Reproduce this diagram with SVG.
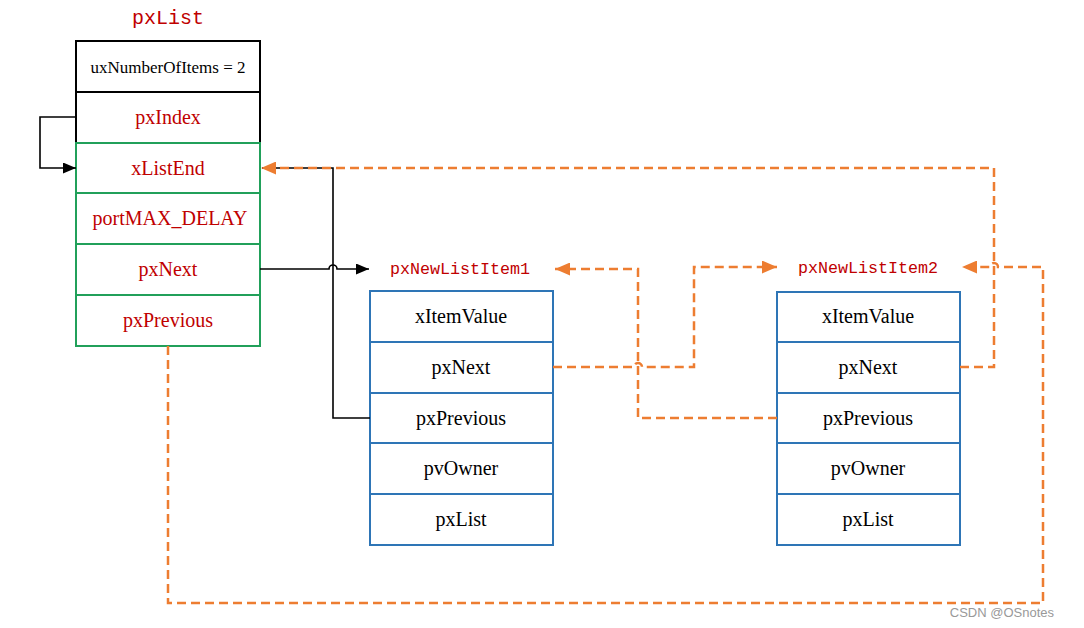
<svg xmlns="http://www.w3.org/2000/svg" width="1084" height="628" viewBox="0 0 1084 628">
<style>
.cell{fill:#fff;stroke-width:2}
.blk{stroke:#000}
.grn{stroke:#21A05A}
.blu{stroke:#2E75B6}
.t{font-family:"Liberation Serif",serif;font-size:20px;text-anchor:middle;dominant-baseline:central}
.red{fill:#C00000}
.black{fill:#000}
.title{font-family:"Liberation Mono",monospace;fill:#C00000;text-anchor:middle;dominant-baseline:central}
.sol{fill:none;stroke:#000;stroke-width:1.6}
.dash{fill:none;stroke:#ED7D31;stroke-width:2.5;stroke-dasharray:9,5}
</style>
<defs>
<marker id="ab" markerWidth="13" markerHeight="11" refX="13" refY="5.5" orient="auto" markerUnits="userSpaceOnUse"><path d="M0,0 L13,5.5 L0,11 z" fill="#000"/></marker>
<marker id="ao" markerWidth="15" markerHeight="13" refX="15" refY="6.5" orient="auto" markerUnits="userSpaceOnUse"><path d="M0,0 L15,6.5 L0,13 z" fill="#ED7D31"/></marker>
</defs>
<rect width="1084" height="628" fill="#fff"/>

<g id="pxList">
<text class="title" x="168" y="18" font-size="20">pxList</text>
<rect class="cell blk" x="76" y="41" width="184" height="51"/>
<rect class="cell blk" x="76" y="92" width="184" height="51"/>
<rect class="cell grn" x="76" y="143" width="184" height="50"/>
<rect class="cell grn" x="76" y="193" width="184" height="51"/>
<rect class="cell grn" x="76" y="244" width="184" height="51"/>
<rect class="cell grn" x="76" y="295" width="184" height="51"/>
<text class="t black" x="168" y="67" style="font-size:17px">uxNumberOfItems = 2</text>
<text class="t red" x="168" y="117">pxIndex</text>
<text class="t red" x="168" y="168">xListEnd</text>
<text class="t red" x="170" y="218">portMAX_DELAY</text>
<text class="t red" x="168" y="269">pxNext</text>
<text class="t red" x="168" y="320">pxPrevious</text>
</g>

<g id="pxNewListItem1">
<text class="title" x="460" y="269" font-size="16.7">pxNewListItem1</text>
<rect class="cell blu" x="370" y="291" width="183" height="51"/>
<rect class="cell blu" x="370" y="342" width="183" height="51"/>
<rect class="cell blu" x="370" y="393" width="183" height="50"/>
<rect class="cell blu" x="370" y="443" width="183" height="51"/>
<rect class="cell blu" x="370" y="494" width="183" height="51"/>
<text class="t black" x="461" y="316">xItemValue</text>
<text class="t black" x="461" y="367">pxNext</text>
<text class="t black" x="461" y="418">pxPrevious</text>
<text class="t black" x="461" y="468">pvOwner</text>
<text class="t black" x="461" y="519">pxList</text>
</g>

<g id="pxNewListItem2">
<text class="title" x="868" y="268" font-size="16.7">pxNewListItem2</text>
<rect class="cell blu" x="777" y="292" width="183" height="50"/>
<rect class="cell blu" x="777" y="342" width="183" height="51"/>
<rect class="cell blu" x="777" y="393" width="183" height="50"/>
<rect class="cell blu" x="777" y="443" width="183" height="51"/>
<rect class="cell blu" x="777" y="494" width="183" height="51"/>
<text class="t black" x="868" y="316">xItemValue</text>
<text class="t black" x="868" y="367">pxNext</text>
<text class="t black" x="868" y="418">pxPrevious</text>
<text class="t black" x="868" y="468">pvOwner</text>
<text class="t black" x="868" y="519">pxList</text>
</g>

<g id="connectors">
<path class="sol" d="M76,117 H40 V168 H76" marker-end="url(#ab)"/>
<path class="sol" d="M370,418 H333 V168 H262"/>
<path class="sol" d="M260,269 H329 A4,4 0 0 1 337,269 H369" marker-end="url(#ab)"/>
<path class="dash" d="M960,367 H994 V168 H261" marker-end="url(#ao)"/>
<path class="dash" d="M777,418 H638 V269 H555" marker-end="url(#ao)"/>
<path class="dash" d="M553,367 H634 A4,4 0 0 1 642,367 H694 V267 H777" marker-end="url(#ao)"/>
<path class="dash" d="M168,346 V603 H1043 V267 H998 A4,4 0 0 0 990,267 H962" marker-end="url(#ao)"/>
</g>

<text x="1054" y="617" font-family="Liberation Sans,Arial,sans-serif" font-size="13" fill="#999" text-anchor="end">CSDN @OSnotes</text>
</svg>
